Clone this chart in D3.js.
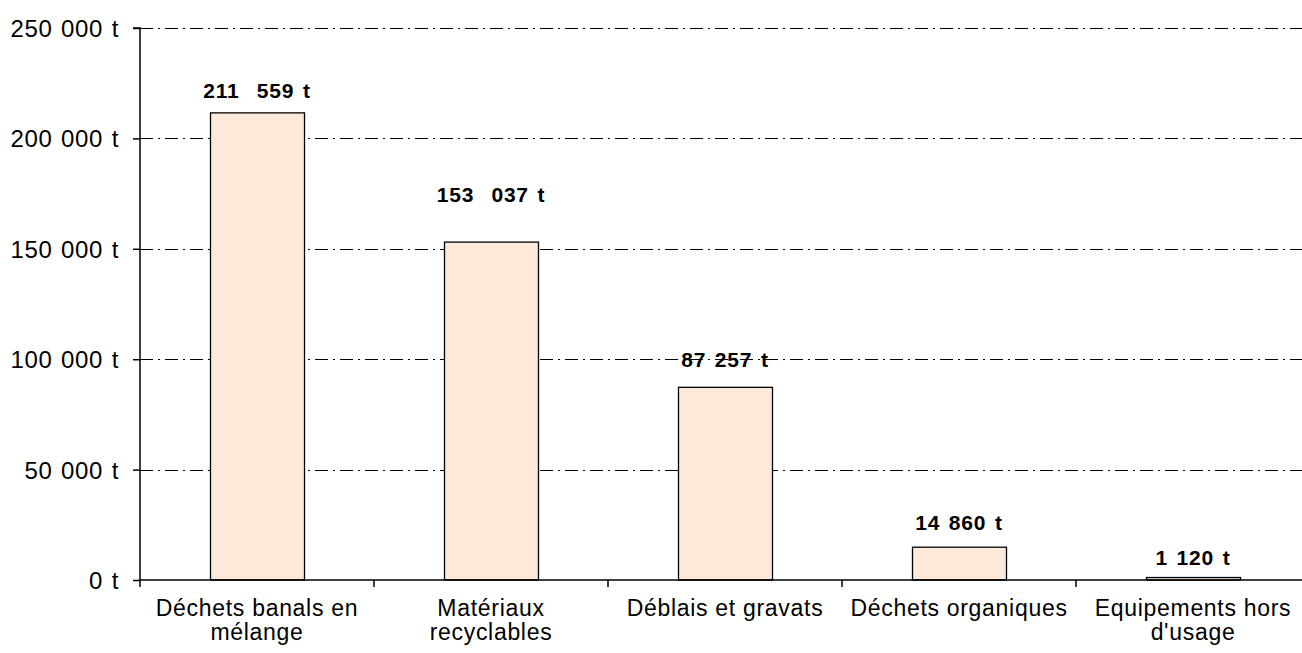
<!DOCTYPE html>
<html>
<head>
<meta charset="utf-8">
<script src="https://cdn.jsdelivr.net/npm/d3@7"></script>
<style>
  html, body { margin: 0; padding: 0; background: #fff; }
  svg { display: block; font-family: "Liberation Sans", Arial, sans-serif; }
</style>
</head>
<body>
<svg id="chart" width="1302" height="653"></svg>
<script>
// Tonnages par type de déchets
const categories = [
  ["Déchets banals en", "mélange"],
  ["Matériaux", "recyclables"],
  ["Déblais et gravats"],
  ["Déchets organiques"],
  ["Equipements hors", "d'usage"]
];
const tonnages = [211559, 153037, 87257, 14860, 1120];
const valueLabels = ["211  559 t", "153  037 t", "87 257 t", "14 860 t", "1 120 t"];
const yTicks = [0, 50000, 100000, 150000, 200000, 250000];
const yTickLabels = ["0 t", "50 000 t", "100 000 t", "150 000 t", "200 000 t", "250 000 t"];

// vertical lift of each value label above its bar (px)
const labelLift = [15, 40, 20, 17, 13];

const svg = d3.select("#chart");
const margin = { left: 140, top: 28, bottom: 580 };
const plotRight = 140 + 5 * 234;

const x = d3.scaleBand()
  .domain(d3.range(categories.length))
  .range([margin.left, plotRight])
  .paddingInner(0.6)
  .paddingOuter(0.3);

const y = d3.scaleLinear()
  .domain([0, 250000])
  .range([margin.bottom, margin.top]);

// dash-dot gridlines
svg.append("g")
  .selectAll("line")
  .data(yTicks.filter(d => d > 0))
  .join("line")
  .attr("x1", margin.left)
  .attr("x2", 1302)
  .attr("y1", d => Math.round(y(d)) + 0.5)
  .attr("y2", d => Math.round(y(d)) + 0.5)
  .attr("stroke", "#000")
  .attr("stroke-width", 1.2)
  .attr("stroke-dasharray", "13,5,2,5");

// bars
svg.append("g")
  .selectAll("rect")
  .data(tonnages)
  .join("rect")
  .attr("x", (d, i) => Math.round(x(i)) + 0.5)
  .attr("y", d => y(d))
  .attr("width", Math.round(x.bandwidth()))
  .attr("height", d => y(0) - y(d))
  .attr("fill", "#FCE9DA")
  .attr("stroke", "#000")
  .attr("stroke-width", 1.3);

// y axis
const yAxis = d3.axisLeft(y)
  .tickValues(yTicks)
  .tickFormat((d, i) => yTickLabels[i])
  .tickSize(7)
  .tickPadding(14);
const gy = svg.append("g")
  .attr("transform", `translate(${margin.left},0)`)
  .call(yAxis);
gy.select(".domain").attr("stroke", "#000").attr("stroke-width", 1.5).attr("d", `M-7,${y(250000)}H0V${y(0)}`);
gy.selectAll(".tick line").attr("stroke", "#000").attr("stroke-width", 1.5);
gy.selectAll(".tick text")
  .attr("fill", "#000")
  .style("font-size", "24px")
  .style("letter-spacing", "0.6px")
  .style("word-spacing", "1.5px")
  .attr("dy", "0.35em");

// x axis: ticks at category boundaries
const gx = svg.append("g");
gx.append("line")
  .attr("x1", margin.left).attr("x2", plotRight)
  .attr("y1", y(0)).attr("y2", y(0))
  .attr("stroke", "#000").attr("stroke-width", 1.6);
gx.selectAll("line.tk")
  .data(d3.range(categories.length))
  .join("line")
  .attr("class", "tk")
  .attr("x1", i => x(i) - x.step() * x.paddingOuter())
  .attr("x2", i => x(i) - x.step() * x.paddingOuter())
  .attr("y1", y(0))
  .attr("y2", y(0) + 7)
  .attr("stroke", "#000").attr("stroke-width", 1.5);

gx.selectAll("text.cat")
  .data(categories)
  .join("text")
  .attr("class", "cat")
  .attr("x", (d, i) => x(i) + x.bandwidth() / 2)
  .attr("y", 616)
  .attr("text-anchor", "middle")
  .style("font-size", "23px")
  .style("letter-spacing", "0.7px")
  .selectAll("tspan")
  .data(d => d)
  .join("tspan")
  .attr("x", function () { return d3.select(this.parentNode).attr("x"); })
  .attr("dy", (d, j) => j === 0 ? 0 : 24)
  .text(d => d);

// value labels
svg.append("g")
  .selectAll("text")
  .data(tonnages)
  .join("text")
  .attr("x", (d, i) => x(i) + x.bandwidth() / 2)
  .attr("y", (d, i) => y(d) - labelLift[i])
  .attr("text-anchor", "middle")
  .style("font-size", "21px")
  .style("font-weight", "bold")
  .style("letter-spacing", "0.8px")
  .style("word-spacing", "2px")
  .style("white-space", "pre")
  .text((d, i) => valueLabels[i]);
</script>
</body>
</html>
